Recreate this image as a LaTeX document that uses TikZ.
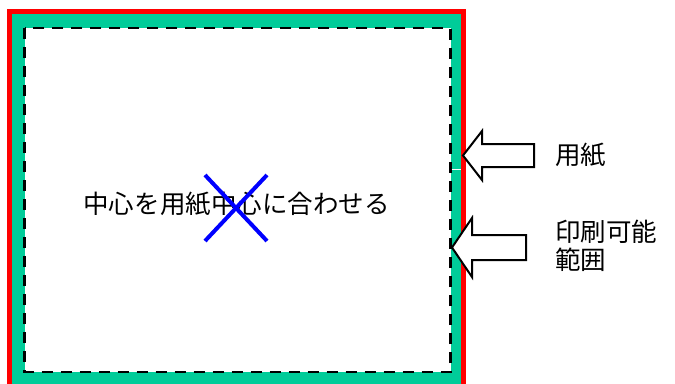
\documentclass[tikz,border=0pt]{standalone}
\usepackage{fontspec}
\newfontfamily\jpfont{Noto Sans CJK JP}
\usetikzlibrary{positioning}
\definecolor{margingreen}{RGB}{0,204,153}
\tikzset{
  label/.style={font=\jpfont\fontsize{25.5bp}{28bp}\selectfont,inner sep=0pt},
  blockarrow/.style={draw=black,line width=2bp,fill=white,line join=miter}
}
\begin{document}
\begin{tikzpicture}[x=1bp,y=-1bp]
\useasboundingbox (0,0) rectangle (675,383);
\clip (0,0) rectangle (675,383);
% paper and printable area
\fill[margingreen](12,14) rectangle (461,395);
\draw[black,line width=2.2bp,dash pattern=on 11bp off 8bp,fill=white](24.5,28) rectangle (450.5,372);
\draw[white,line width=1bp](451.5,169)--(461,169);
\draw[red,line width=5bp](9.5,395)--(9.5,11.5)--(463.5,11.5)--(463.5,395);
% centre text and mark
\node[label] (centretext) at (236.5,204) {中心を用紙中心に合わせる};
\draw[blue,line width=4bp](205,175)--(267,241)
(205,241)--(267,175);
% labels
\node[label,anchor=west] (paper) at (555,155) {用紙};
\node[label,anchor=west,align=left] (printable) at (555,246) {印刷可能\\範囲};
% arrows
\draw[blockarrow](463,155.5)--(482,131)--(482,144)--(534,144)--(534,167)--(482,167)--(482,180)--cycle;
\draw[blockarrow](452,247.5)--(472,218)--(472,235)--(526,235)--(526,260)--(472,260)--(472,277)--cycle;
\end{tikzpicture}
\end{document}
